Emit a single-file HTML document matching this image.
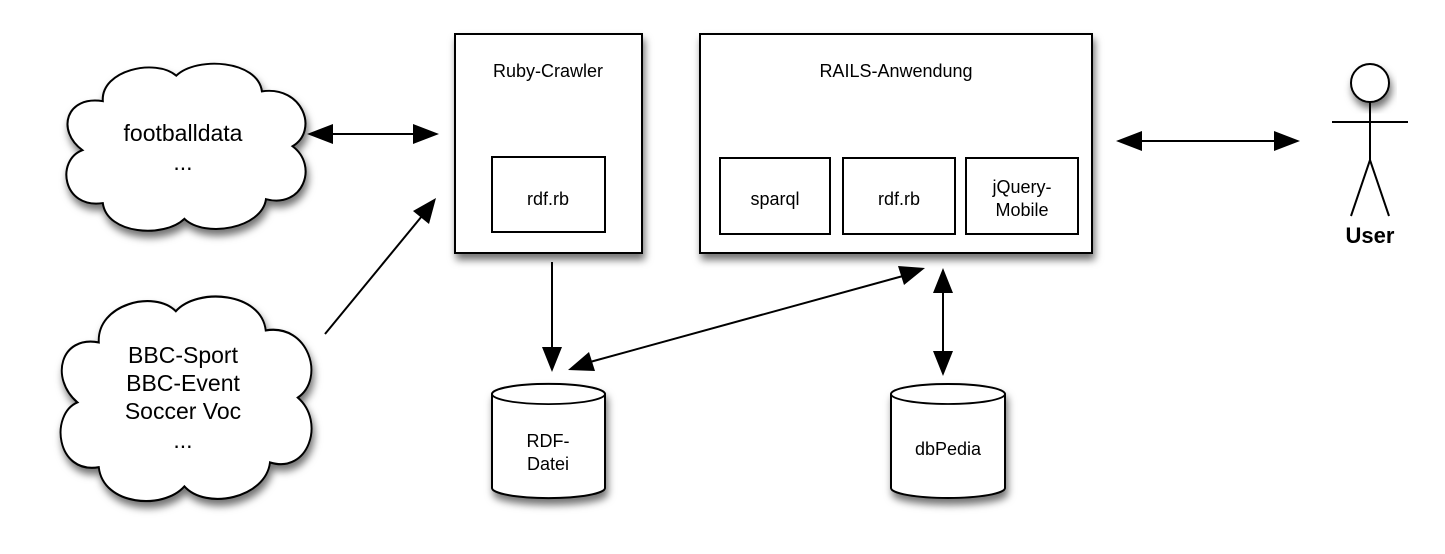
<!DOCTYPE html>
<html><head><meta charset="utf-8"><style>
html,body{margin:0;padding:0;background:#fff;}
svg{display:block;}
text{font-family:"Liberation Sans",Arial,sans-serif;fill:#000;}
</style></head><body>
<svg width="1445" height="554" viewBox="0 0 1445 554" xmlns="http://www.w3.org/2000/svg">
<defs>
<filter id="sh" x="-20%" y="-20%" width="140%" height="150%">
<feDropShadow dx="2" dy="6" stdDeviation="4" flood-color="#000" flood-opacity="0.55"/>
</filter>
<path id="cloud" d="M40,42 C38,10 92,-2 112,16 C132,-4 192,0 196,32 C236,26 252,72 226,88 C252,108 236,152 200,142 C196,172 140,182 120,162 C100,182 44,178 40,146 C0,152 -6,102 20,92 C-6,72 4,36 40,42 Z"/>
</defs>

<g filter="url(#sh)" fill="#fff" stroke="#000" stroke-width="2">
<use href="#cloud" transform="translate(62,60) scale(1.02,0.98)"/>
<use href="#cloud" transform="translate(56,292) scale(1.07,1.2)" stroke-width="1.8"/>
</g>
<text x="183" y="141" font-size="23" text-anchor="middle">footballdata</text>
<text x="183" y="170" font-size="23" text-anchor="middle">...</text>
<text x="183" y="363" font-size="23" text-anchor="middle">BBC-Sport</text>
<text x="183" y="391" font-size="23" text-anchor="middle">BBC-Event</text>
<text x="183" y="419" font-size="23" text-anchor="middle">Soccer Voc</text>
<text x="183" y="448" font-size="23" text-anchor="middle">...</text>

<g fill="#fff" stroke="#000" stroke-width="2">
<rect x="455" y="34" width="187" height="219" filter="url(#sh)"/>
<rect x="700" y="34" width="392" height="219" filter="url(#sh)"/>
<rect x="492" y="157" width="113" height="75"/>
<rect x="720" y="158" width="110" height="76"/>
<rect x="843" y="158" width="112" height="76"/>
<rect x="966" y="158" width="112" height="76"/>
</g>
<text x="548" y="77" font-size="18" text-anchor="middle">Ruby-Crawler</text>
<text x="896" y="77" font-size="18" text-anchor="middle">RAILS-Anwendung</text>
<text x="548" y="205" font-size="18" text-anchor="middle">rdf.rb</text>
<text x="775" y="205" font-size="18" text-anchor="middle">sparql</text>
<text x="899" y="205" font-size="18" text-anchor="middle">rdf.rb</text>
<text x="1022" y="193" font-size="18" text-anchor="middle">jQuery-</text>
<text x="1022" y="216" font-size="18" text-anchor="middle">Mobile</text>

<g fill="#fff" stroke="#000" stroke-width="2" filter="url(#sh)">
<path d="M492,394 A56,10 0 0 1 605,394 L605,488 A56,10 0 0 1 492,488 Z"/>
<path d="M891,394 A57,10 0 0 1 1005,394 L1005,488 A57,10 0 0 1 891,488 Z"/>
</g>
<g fill="none" stroke="#000" stroke-width="1.8">
<path d="M492,394 A56,10 0 0 0 605,394"/>
<path d="M891,394 A57,10 0 0 0 1005,394"/>
</g>
<text x="548" y="447" font-size="18" text-anchor="middle">RDF-</text>
<text x="548" y="470" font-size="18" text-anchor="middle">Datei</text>
<text x="948" y="455" font-size="18" text-anchor="middle">dbPedia</text>

<g stroke="#000" stroke-width="2">
<line x1="330" y1="134" x2="416" y2="134"/>
<line x1="325" y1="334" x2="422" y2="216"/>
<line x1="552" y1="262" x2="552" y2="350"/>
<line x1="590" y1="362" x2="903" y2="276"/>
<line x1="943" y1="290" x2="943" y2="354"/>
<line x1="1140" y1="141" x2="1276" y2="141"/>
</g>
<g fill="#000">
<polygon points="307,134 333,124 333,144"/>
<polygon points="439,134 413,124 413,144"/>
<polygon points="436,198 429,224 413,211"/>
<polygon points="552,372 542,347 562,347"/>
<polygon points="568,370 589,352 595,371"/>
<polygon points="925,268 898,266 904,285"/>
<polygon points="943,268 933,293 953,293"/>
<polygon points="943,376 933,351 953,351"/>
<polygon points="1116,141 1142,131 1142,151"/>
<polygon points="1300,141 1274,131 1274,151"/>
</g>

<circle cx="1370" cy="83" r="19" fill="#fff" stroke="#000" stroke-width="2" filter="url(#sh)"/>
<g stroke="#000" stroke-width="2" fill="none">
<line x1="1370" y1="102" x2="1370" y2="160"/>
<line x1="1332" y1="122" x2="1408" y2="122"/>
<polyline points="1351,216 1370,160 1389,216"/>
</g>
<text x="1370" y="243" font-size="22" font-weight="bold" text-anchor="middle">User</text>
</svg>
</body></html>
